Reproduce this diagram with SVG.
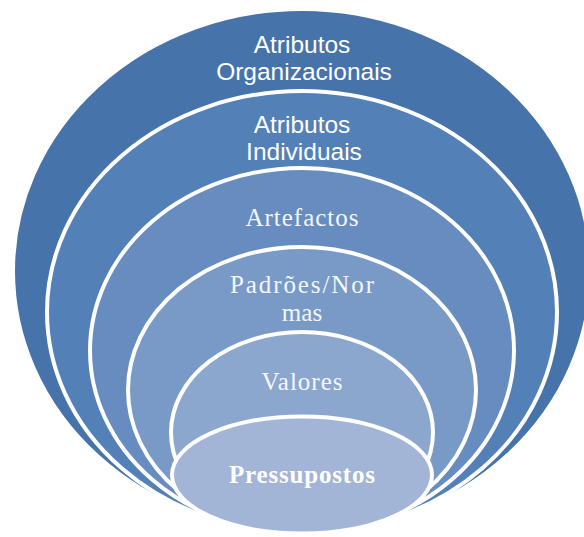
<svg xmlns="http://www.w3.org/2000/svg" width="584" height="537" viewBox="0 0 584 537">
  <style>
    .ring { stroke: #ffffff; stroke-width: 4; }
    .sans { font-family: "Liberation Sans", Arial, sans-serif; font-size: 24.5px; fill: #ffffff; text-anchor: middle; }
    .serif { font-family: "Liberation Serif", "Times New Roman", serif; font-size: 25px; fill: #f4f6fb; text-anchor: middle; }
    .bold { font-weight: bold; fill: #ffffff; }
  </style>

  <!-- stacked layers, largest first; all share the same bottom point -->
  <g id="atributos-organizacionais">
    <ellipse class="ring" cx="302" cy="271" rx="289" ry="262" fill="#4673a9"/>
    <text class="sans" x="302" y="53">Atributos</text>
    <text class="sans" x="304" y="80">Organizacionais</text>
  </g>

  <g id="atributos-individuais">
    <ellipse class="ring" cx="302" cy="312" rx="255" ry="221" fill="#5480b8"/>
    <text class="sans" x="302" y="133">Atributos</text>
    <text class="sans" x="304" y="160">Individuais</text>
  </g>

  <g id="artefactos">
    <ellipse class="ring" cx="302" cy="350.5" rx="212" ry="182.5" fill="#678dc0"/>
    <text class="serif" x="302" y="226" textLength="113">Artefactos</text>
  </g>

  <g id="padroes-normas">
    <ellipse class="ring" cx="302" cy="390" rx="174" ry="143" fill="#799ac7"/>
    <text class="serif" x="302" y="293" textLength="144">Padrões/Nor</text>
    <text class="serif" x="302" y="321">mas</text>
  </g>

  <g id="valores">
    <ellipse class="ring" cx="302" cy="432.5" rx="131" ry="100.5" fill="#8ca7ce"/>
    <text class="serif" x="302" y="390" textLength="81">Valores</text>
  </g>

  <g id="pressupostos">
    <ellipse class="ring" cx="302" cy="475" rx="130" ry="58.5" fill="#a2b5d7"/>
    <text class="serif bold" x="302" y="483" textLength="146">Pressupostos</text>
  </g>

  <g id="connectors"/>
</svg>
